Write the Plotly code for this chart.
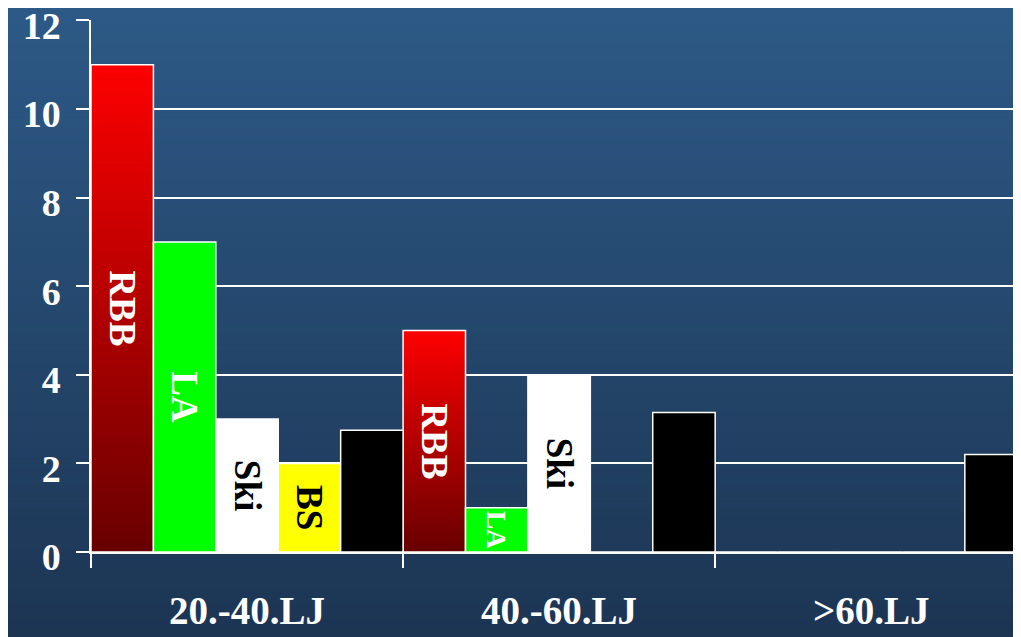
import plotly.graph_objects as go

# ---- data ----
categories = ["20.-40.LJ", "40.-60.LJ", ">60.LJ"]
series_names = ["RBB", "LA", "Ski", "BS", "Sonstige"]
rbb = [11, 5, 0]
la = [7, 1, 0]
ski = [3, 4, 0]
bs = [2, 0, 0]
other = [2.75, 3.15, 2.2]
bar_labels = ["RBB", "LA", "Ski", "BS", ""]
y_ticks = [0, 2, 4, 6, 8, 10, 12]

values = [rbb, la, ski, bs, other]
fills = [None, "#00ff00", "#ffffff", "#ffff00", "#000000"]
text_colors = ["white", "white", "black", "black", "white"]

FONT = "Liberation Serif, Times New Roman, serif"
n_series = len(values)
slot = 1.0 / n_series

fig = go.Figure()

# background gradient (paper coordinates covering whole figure); each strip runs to the bottom
top_rgb = (45, 90, 135)
bot_rgb = (28, 52, 82)
n_strips = 120
y0p, y1p = -0.18, 1.04
for i in range(n_strips):
    t = 1 - i / (n_strips - 1)
    c = tuple(round(bot_rgb[k] + (top_rgb[k] - bot_rgb[k]) * t) for k in range(3))
    yt = y1p - (y1p - y0p) * i / n_strips
    fig.add_shape(type="rect", xref="paper", yref="paper", x0=-0.12, x1=1.02,
                  y0=y0p, y1=yt, fillcolor="rgb(%d,%d,%d)" % c, line_width=0, layer="below")

# RBB gradient bars built from overlapping segments
bright = (255, 0, 0)
dark = (105, 0, 0)
N = 50
offset0 = -0.5
for i in range(N):
    t = i / N
    c = tuple(round(dark[k] + (bright[k] - dark[k]) * t) for k in range(3))
    bases = [v * i / N for v in rbb]
    heights = [v - b for v, b in zip(rbb, bases)]
    fig.add_trace(go.Bar(x=categories, y=heights, base=bases, offset=offset0, width=slot,
                         marker=dict(color="rgb(%d,%d,%d)" % c, line_width=0),
                         showlegend=False, hoverinfo="skip"))

# series outlines / fills with labels
for s in range(n_series):
    vals = values[s]
    texts = [bar_labels[s] if v > 0 else "" for v in vals]
    fig.add_trace(go.Bar(
        x=categories, y=vals, name=series_names[s],
        offset=offset0 + s * slot, width=slot,
        marker=dict(color=fills[s] if fills[s] else "rgba(0,0,0,0)",
                    line=dict(color="white", width=1.5)),
        text=texts, textposition="inside", insidetextanchor="middle",
        textangle=90,
        insidetextfont=dict(family=FONT, size=37, color=text_colors[s], weight="bold"),
        showlegend=False,
    ))

fig.update_layout(
    width=1013, height=629,
    margin=dict(l=83, r=0, t=12, b=85),
    barmode="overlay",
    paper_bgcolor="rgb(28,52,82)",
    plot_bgcolor="rgba(0,0,0,0)",
    font=dict(family=FONT, color="white"),
)
fig.update_xaxes(
    type="category", range=[-0.5, 2.48], automargin=False,
    showgrid=False, showline=True, linecolor="white", linewidth=1.5,
    ticks="outside", tickson="boundaries", ticklen=14, tickcolor="white", tickwidth=1.5,
    tickfont=dict(family=FONT, size=39, color="white", weight="bold"),
    ticklabelstandoff=23,
)
fig.update_yaxes(
    range=[0, 12.01], tickvals=y_ticks, automargin=False,
    showgrid=True, gridcolor="white", gridwidth=1.5,
    showline=True, linecolor="white", linewidth=1.5,
    ticks="outside", ticklen=13, tickcolor="white", tickwidth=1.5,
    tickfont=dict(family=FONT, size=38, color="white", weight="bold"),
    ticklabelstandoff=8, ticklabelshift=5, zeroline=False, ticklabeloverflow="allow",
)

fig.write_html("out.html")
